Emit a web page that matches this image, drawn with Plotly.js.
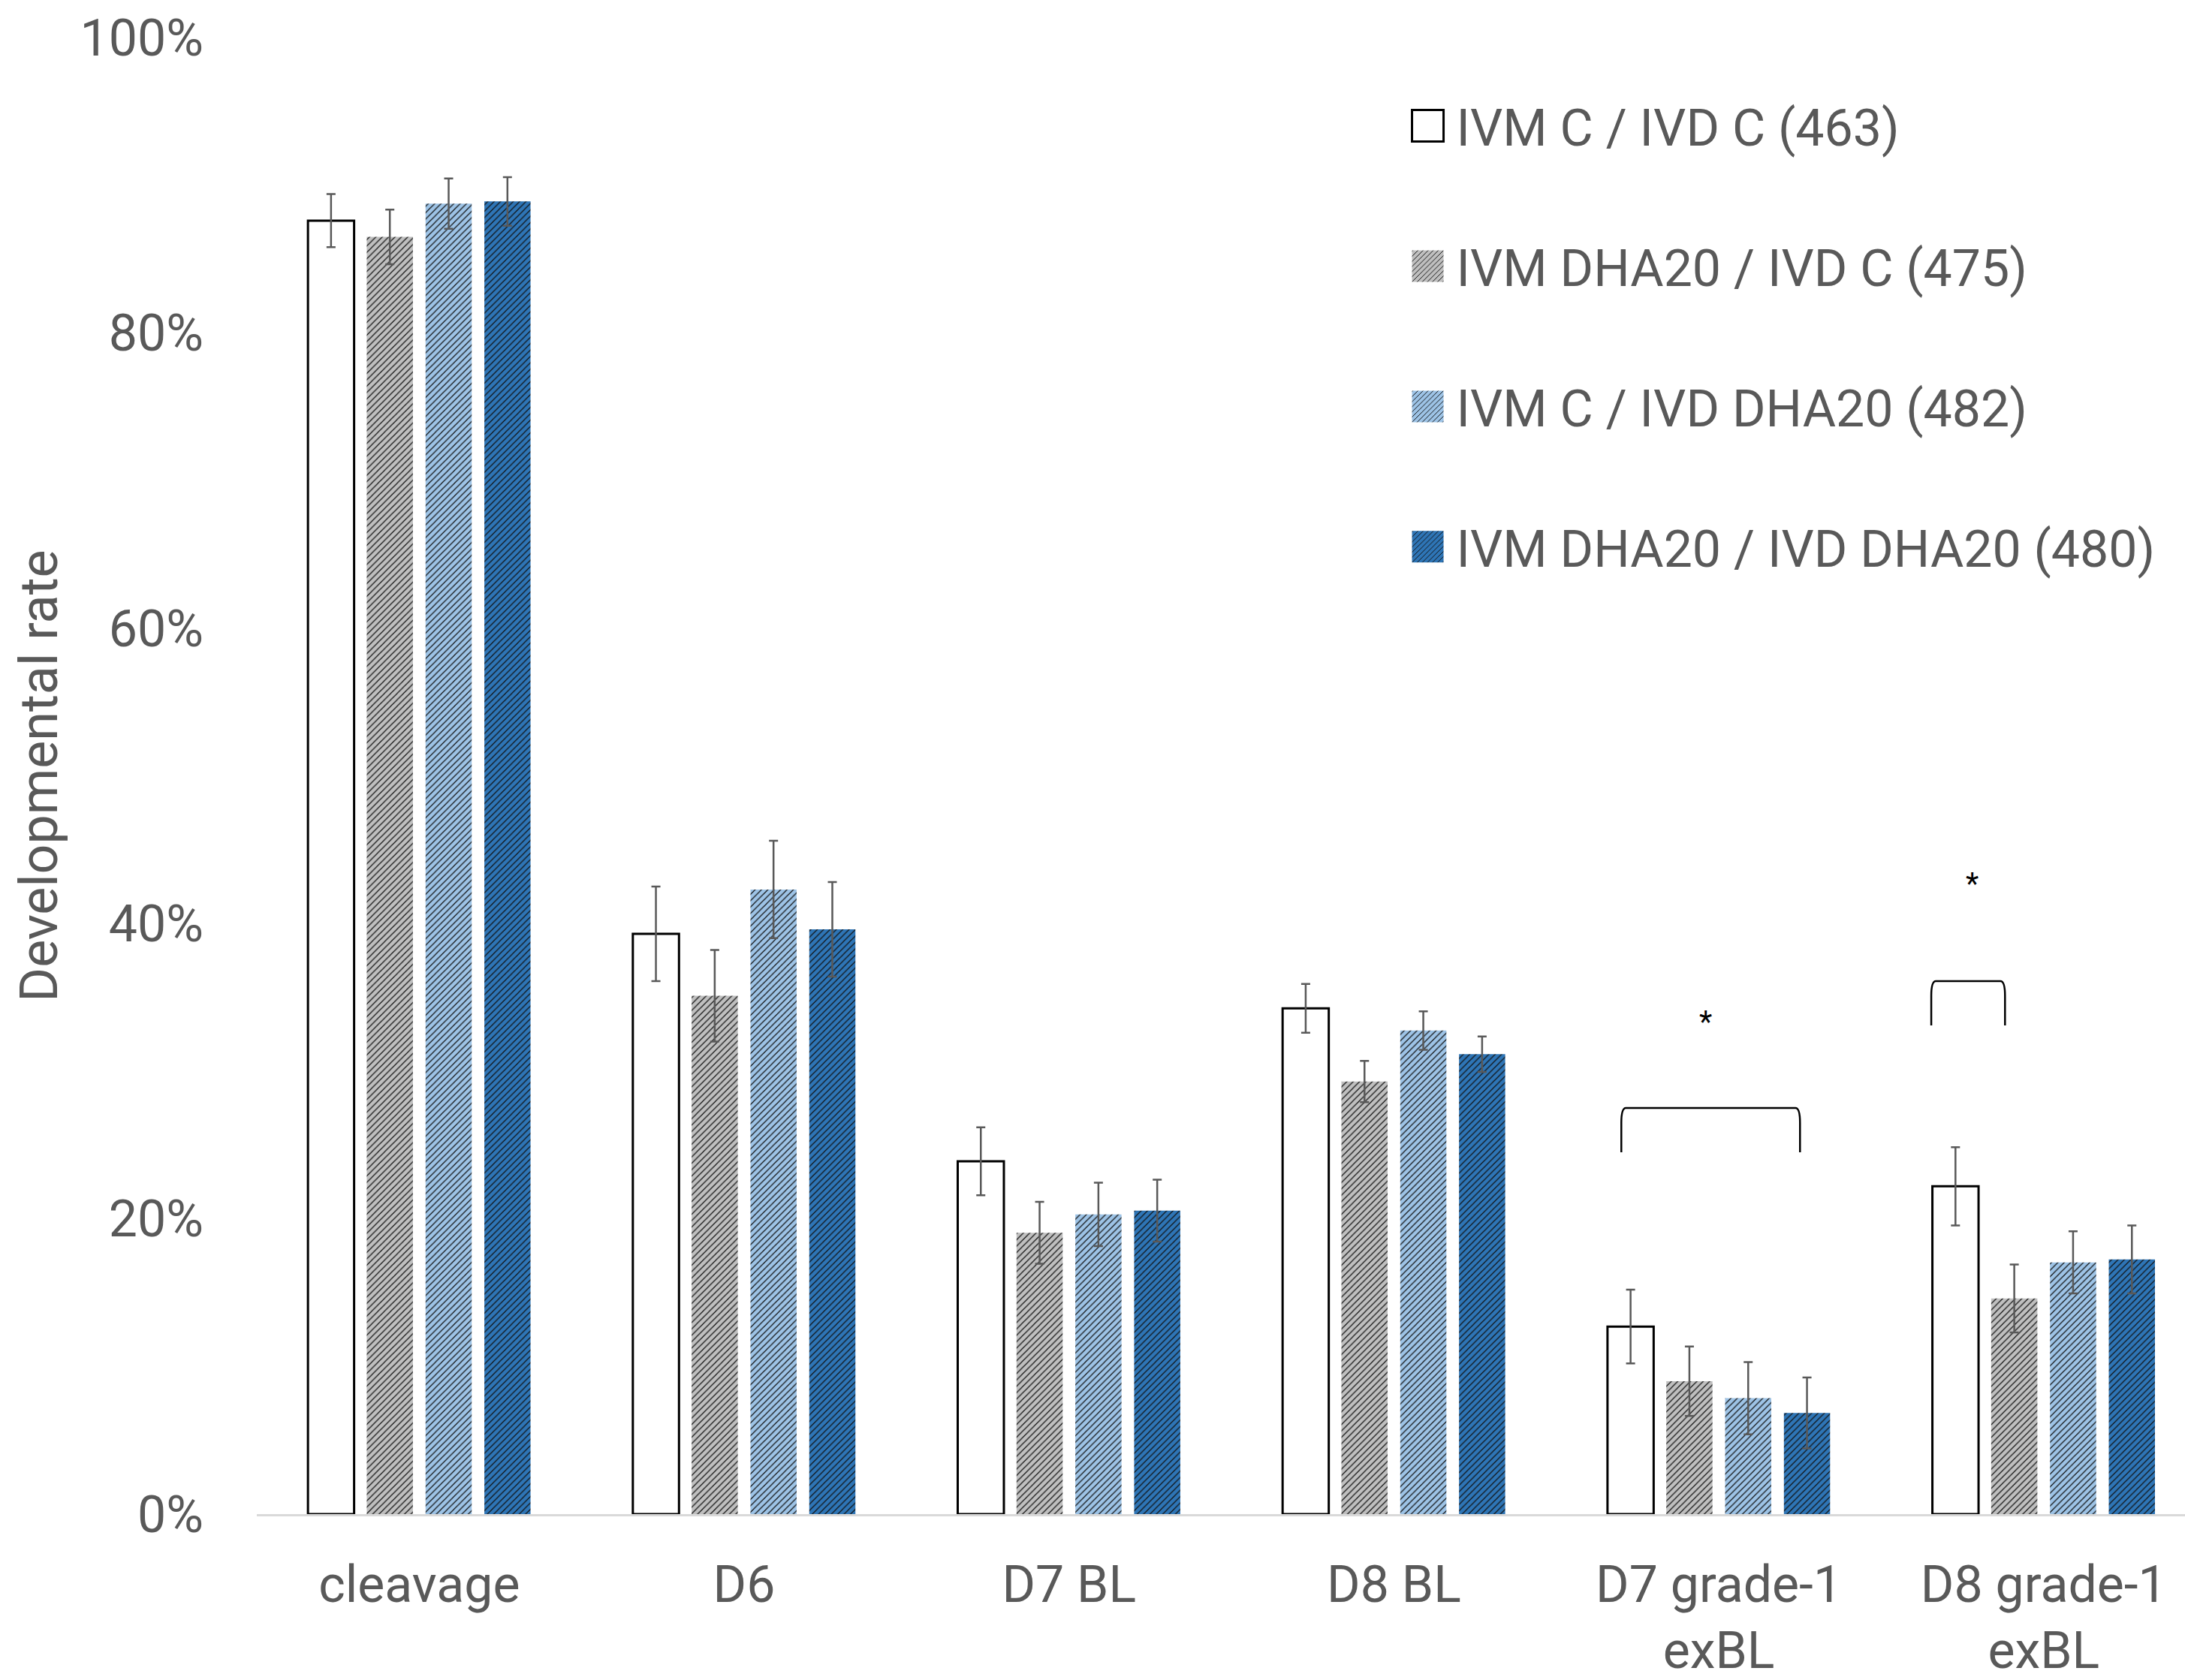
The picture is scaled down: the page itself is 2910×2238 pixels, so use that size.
<!DOCTYPE html>
<html>
<head>
<meta charset="utf-8">
<script src="https://cdn.plot.ly/plotly-3.0.1.min.js"></script>
<style>html,body{margin:0;padding:0;background:#fff;}#chart{width:2910px;height:2238px;}</style>
</head>
<body>
<div id="chart"></div>
<script>
// ---- data ----
const categories = ['cleavage', 'D6', 'D7 BL', 'D8 BL', 'D7 grade-1<br>exBL', 'D8 grade-1<br>exBL'];
const seriesNames = ['IVM C / IVD C (463)', 'IVM DHA20 / IVD C (475)', 'IVM C / IVD DHA20 (482)', 'IVM DHA20 / IVD DHA20 (480)'];
const ivmC_ivdC = [87.6, 39.3, 23.9, 34.25, 12.7, 22.2];
const ivmC_ivdC_err = [1.8, 3.2, 2.3, 1.65, 2.5, 2.65];
const ivmDHA_ivdC = [86.5, 35.1, 19.05, 29.3, 9.0, 14.6];
const ivmDHA_ivdC_err = [1.85, 3.1, 2.1, 1.4, 2.35, 2.3];
const ivmC_ivdDHA = [88.75, 42.3, 20.3, 32.75, 7.85, 17.05];
const ivmC_ivdDHA_err = [1.7, 3.3, 2.15, 1.3, 2.45, 2.1];
const ivmDHA_ivdDHA = [88.9, 39.6, 20.55, 31.15, 6.85, 17.25];
const ivmDHA_ivdDHA_err = [1.65, 3.2, 2.1, 1.2, 2.4, 2.3];
const yTickVals = [0, 20, 40, 60, 80, 100];
const yTickText = ['0%', '20%', '40%', '60%', '80%', '100%'];

// significance brackets (annotation positions, x in category units, y in %)
const bracketLeft = [3.70, 4.654];
const bracketRight = [4.25, 4.881];
const bracketTop = [27.5, 36.1];
const bracketBottom = [24.5, 33.1];
const starX = [3.959, 4.779];
const starY = [33.3, 42.7];

// ---- styles ----
const FONT = 'Roboto, "Liberation Sans", sans-serif';
const TXT = '#595959';
const fills = ['#ffffff', '#bfbfbf', '#9dc3e6', '#2e75b6'];
const values = [ivmC_ivdC, ivmDHA_ivdC, ivmC_ivdDHA, ivmDHA_ivdDHA];
const errs = [ivmC_ivdC_err, ivmDHA_ivdC_err, ivmC_ivdDHA_err, ivmDHA_ivdDHA_err];

const traces = values.map((v, i) => {
  const marker = {color: fills[i]};
  if (i === 0) {
    marker.line = {color: '#000000', width: 3};
  } else {
    marker.line = {width: 0};
    marker.pattern = {shape: '/', size: 6, solidity: 0.2, fgcolor: '#111111', bgcolor: fills[i], fillmode: 'replace'};
  }
  return {
    type: 'bar',
    name: seriesNames[i],
    legendgroup: 'g' + i,
    x: categories,
    y: v,
    marker: marker,
    error_y: {type: 'data', array: errs[i], visible: true, color: '#595959', thickness: 2.5, width: 6}
  };
});

const shapes = bracketLeft.map((l, i) => {
  const r = bracketRight[i], t = bracketTop[i], b = bracketBottom[i];
  const dx = 0.014, dy = 1.0;
  return {
    type: 'path', xref: 'x', yref: 'y',
    path: `M ${l},${b} L ${l},${t - dy} Q ${l},${t} ${l + dx},${t} L ${r - dx},${t} Q ${r},${t} ${r},${t - dy} L ${r},${b}`,
    line: {color: '#000000', width: 2.5}
  };
});

const annotations = starX.map((x, i) => ({
  x: x, y: starY[i], xref: 'x', yref: 'y', text: '*', showarrow: false,
  font: {family: FONT, size: 40, color: '#000000'}
}));

const layout = {
  width: 2910, height: 2238,
  margin: {l: 342, r: 0, t: 50, b: 221, autoexpand: false},
  paper_bgcolor: '#ffffff', plot_bgcolor: '#ffffff',
  font: {family: FONT, size: 68, color: TXT},
  barmode: 'group', bargap: 0.276, bargroupgap: 0.215,
  xaxis: {
    type: 'category', range: [-0.5, 5.435], automargin: false,
    showline: true, linecolor: '#d9d9d9', linewidth: 3,
    showgrid: false, zeroline: false, ticks: '', tickangle: 0,
    ticklabelstandoff: 32,
    tickfont: {family: FONT, size: 68, color: TXT}
  },
  yaxis: {
    range: [0, 100], tickvals: yTickVals, ticktext: yTickText, automargin: false,
    showline: false, showgrid: false, zeroline: false, ticks: '',
    ticklabelstandoff: 70,
    tickfont: {family: FONT, size: 68, color: TXT},
    title: {text: 'Developmental rate', font: {family: FONT, size: 70, color: TXT}, standoff: 7}
  },
  legend: {
    x: 0.5925, y: 0.966, xanchor: 'left', yanchor: 'top',
    bgcolor: 'rgba(0,0,0,0)', borderwidth: 0,
    font: {family: FONT, size: 68, color: TXT},
    traceorder: 'grouped', tracegroupgap: 95.5, itemwidth: 66
  },
  shapes: shapes,
  annotations: annotations,
  showlegend: true
};

Plotly.newPlot('chart', traces, layout, {staticPlot: true, displayModeBar: false}).then(gd => {
  // enlarge legend swatches to match reference square size
  gd.querySelectorAll('.legend .legendpoints path').forEach(p => {
    p.setAttribute('d', 'M21,21H-21V-21H21Z');
  });
});
</script>
</body>
</html>
